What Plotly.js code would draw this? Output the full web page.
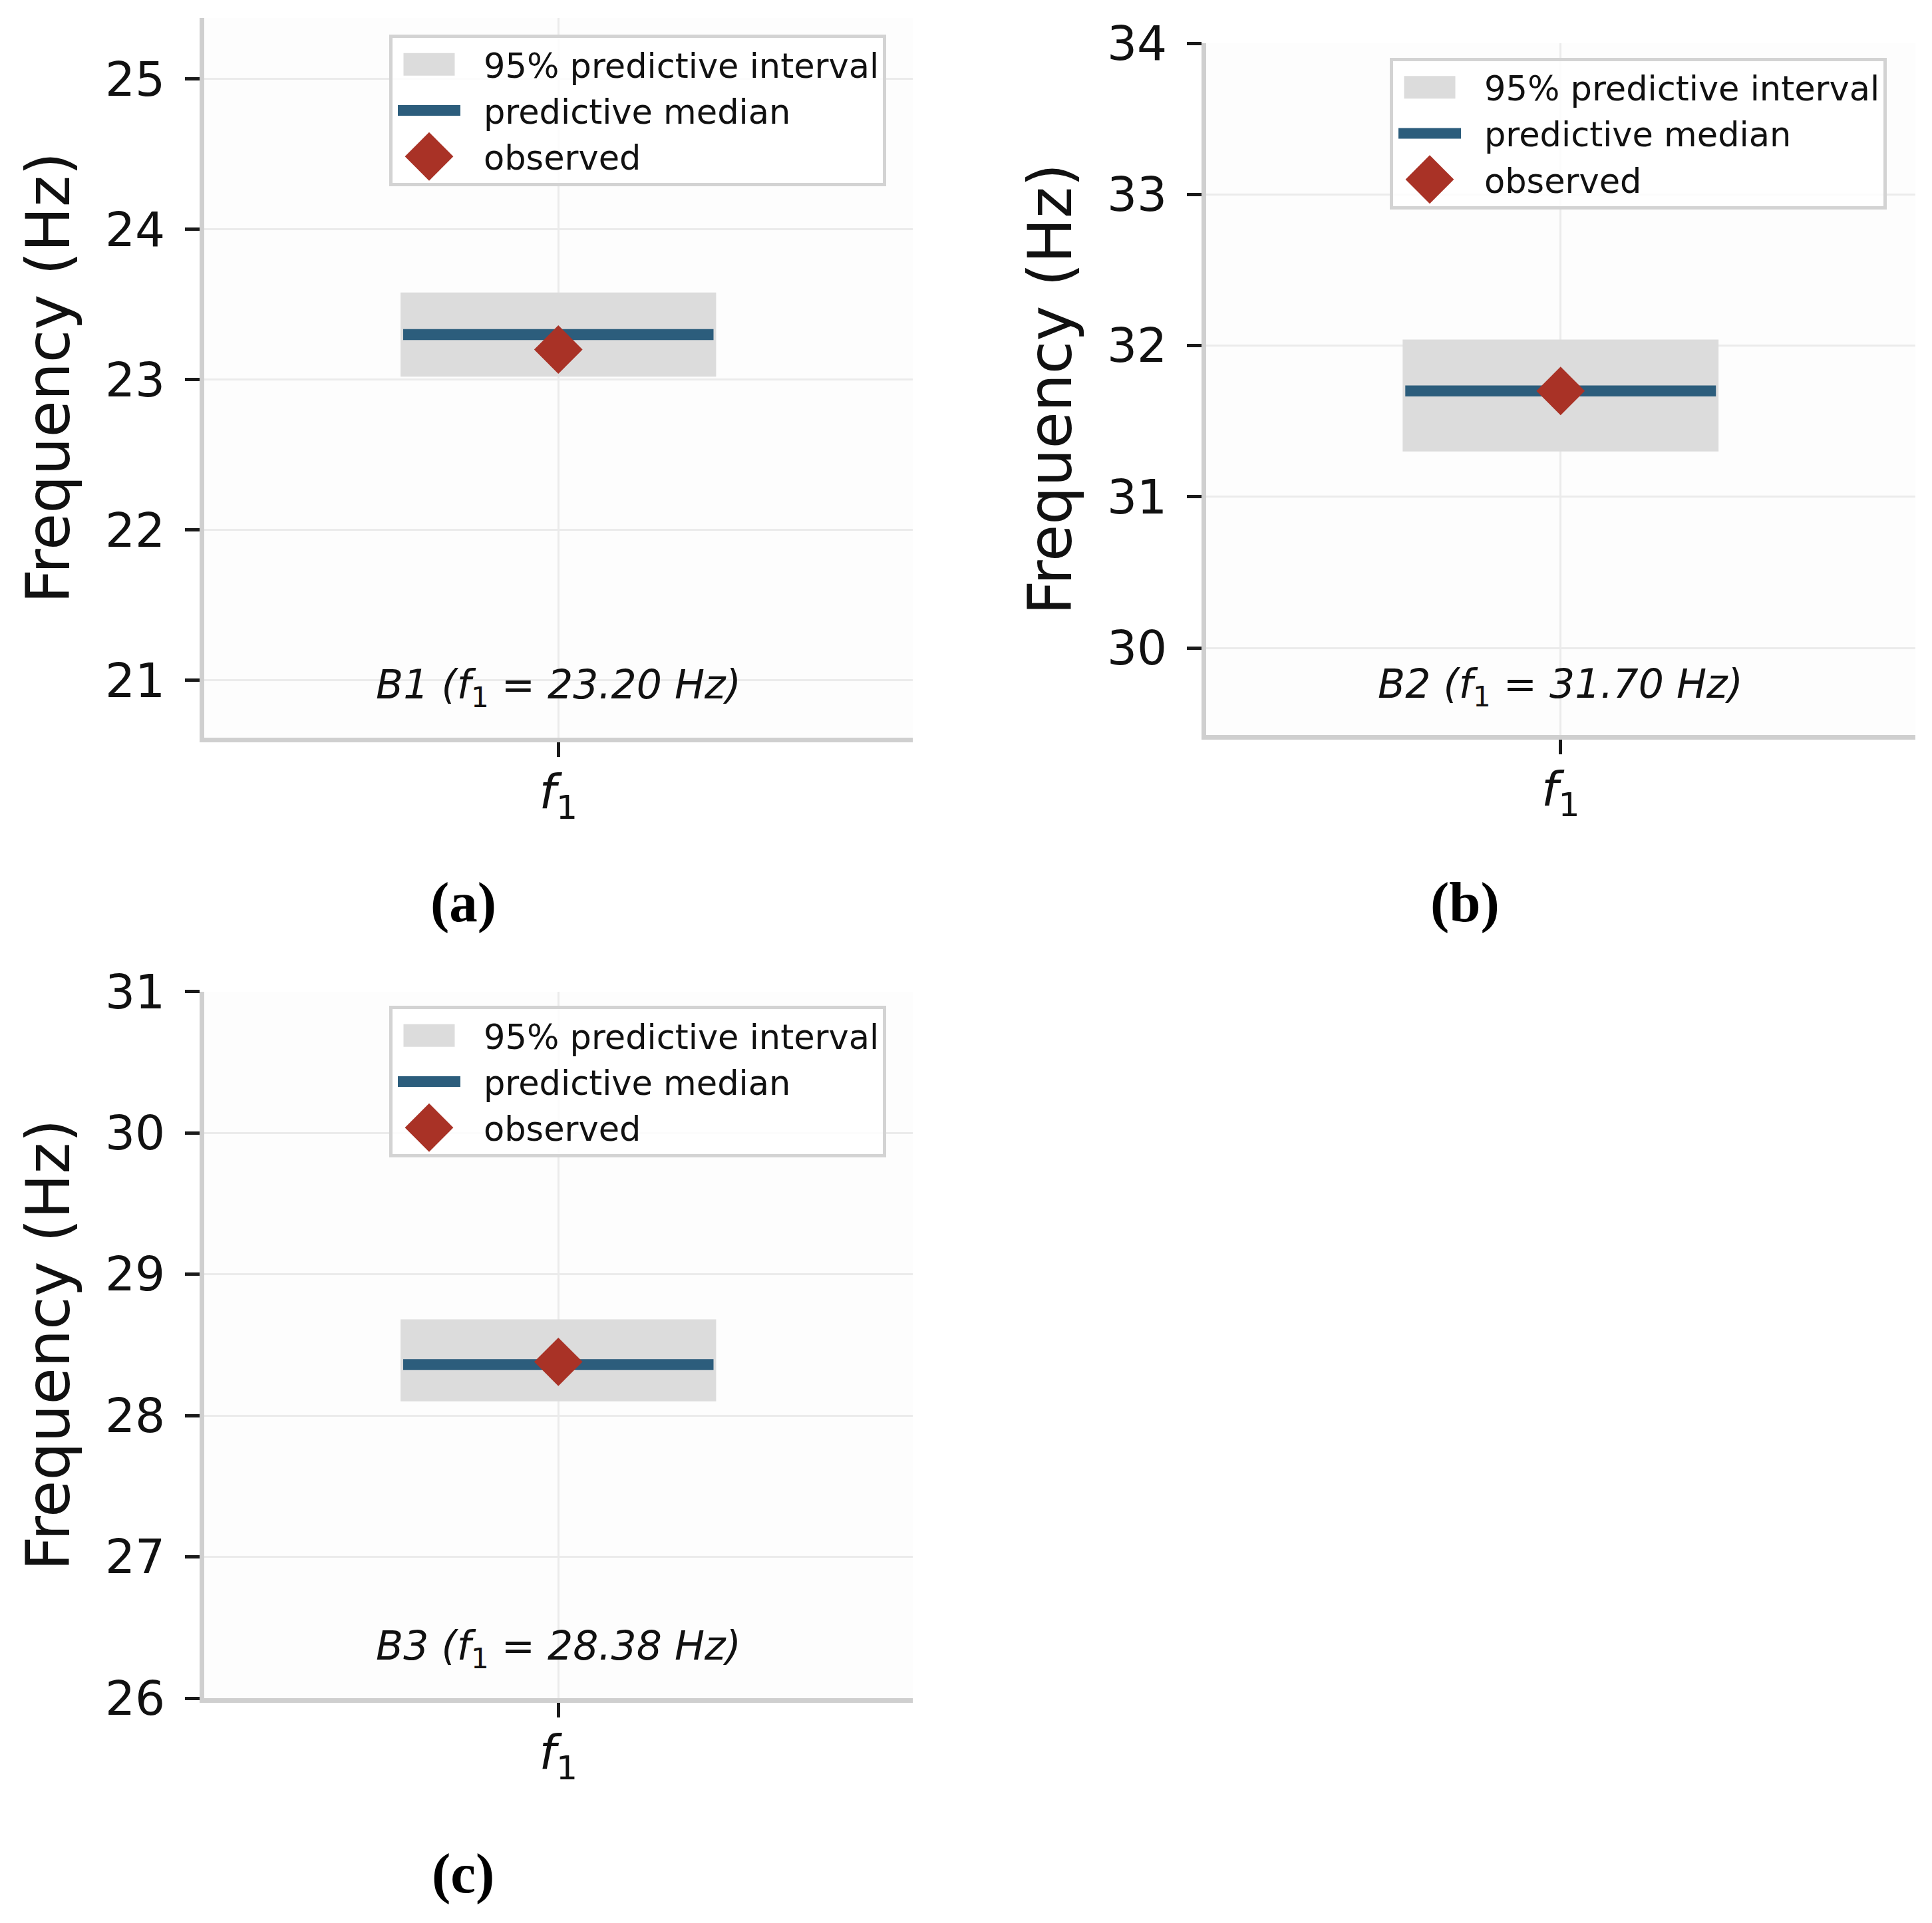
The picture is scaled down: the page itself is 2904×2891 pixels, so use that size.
<!DOCTYPE html>
<html>
<head>
<meta charset="utf-8">
<script src="https://cdn.plot.ly/plotly-3.0.1.min.js"></script>
<style>
  html, body { margin: 0; padding: 0; background: #ffffff; }
  #fig { width: 2904px; height: 2891px; }
</style>
</head>
<body>
<div id="fig"></div>
<script>
// Posterior predictive check of the first natural frequency, beams B1-B3
const beams = ['B1', 'B2', 'B3'];
const panelTags = ['(a)', '(b)', '(c)'];
const modeTick = '<i>f</i><sub>1</sub>';
const observed = [23.20, 31.70, 28.38];     // Hz
const predMedian = [23.30, 31.70, 28.36];   // Hz
const predLower = [23.02, 31.30, 28.10];    // 2.5 % quantile, Hz
const predUpper = [23.58, 32.04, 28.68];    // 97.5 % quantile, Hz
const seriesNames = ['95% predictive interval', 'predictive median', 'observed'];

// ---- styling / geometry -------------------------------------------------
const W = 2904, H = 2891;
const FONT = 'DejaVu Sans';
const COL_BAND = '#dcdcdc';
const COL_MEDIAN = '#2c5d7c';
const COL_OBS = '#a93226';
const BAND_HALF = 0.2226;     // half width of the interval box (x units)
const MEDIAN_HALF = 0.2189;   // half width of the median bar (x units)
const LEG_ITEM_W = 127;       // legend key area width (px)
const LEG_KEY_X = 55;         // centre of the legend keys (px from item origin)

// pixel boxes [left, top, right, bottom] of the three axes and their y ranges
const panels = [
  { box: [306.5, 27, 1372, 1109],     yr: [20.618, 25.406], leg: [585, 52],   tag: [696, 1356] },
  { box: [1812.5, 65, 2879, 1105],    yr: [29.424, 34.0],   leg: [2089, 86.5], tag: [2202, 1356] },
  { box: [306.5, 1490.7, 1372, 2553], yr: [26.0, 31.0],     leg: [585, 1512], tag: [696, 2816] }
];

const data = [];
const layout = {
  width: W, height: H,
  margin: { l: 0, r: 0, t: 0, b: 0, pad: 0 },
  paper_bgcolor: '#ffffff',
  plot_bgcolor: '#fdfdfd',
  font: { family: FONT, color: '#111111' },
  showlegend: true,
  barmode: 'overlay',
  annotations: []
};

panels.forEach(function (p, i) {
  const s = i === 0 ? '' : String(i + 1);
  const xa = 'x' + s, ya = 'y' + s;
  const legId = 'legend' + s;

  // interval box
  data.push({
    type: 'bar', xaxis: xa, yaxis: ya, legend: legId,
    name: seriesNames[0],
    x: [0], base: [predLower[i]], y: [predUpper[i] - predLower[i]],
    width: [2 * BAND_HALF],
    marker: { color: COL_BAND, line: { width: 0 } },
    hoverinfo: 'skip'
  });
  // predictive median
  data.push({
    type: 'scatter', mode: 'lines', xaxis: xa, yaxis: ya, legend: legId,
    name: seriesNames[1],
    x: [-MEDIAN_HALF, MEDIAN_HALF], y: [predMedian[i], predMedian[i]],
    line: { color: COL_MEDIAN, width: 16.5 },
    hoverinfo: 'skip'
  });
  // observed value
  data.push({
    type: 'scatter', mode: 'markers', xaxis: xa, yaxis: ya, legend: legId,
    name: seriesNames[2],
    x: [0], y: [observed[i]],
    marker: { symbol: 'diamond', size: 56, color: COL_OBS, line: { width: 0 } },
    hoverinfo: 'skip'
  });

  const [x0, y0, x1, y1] = p.box;
  layout['xaxis' + s] = {
    anchor: ya,
    domain: [x0 / W, x1 / W],
    range: [-0.5, 0.5],
    tickmode: 'array', tickvals: [0], ticktext: [modeTick],
    showgrid: true, gridcolor: '#ebebeb', gridwidth: 3,
    zeroline: false,
    showline: true, linecolor: '#cfcfcf', linewidth: 7,
    ticks: 'outside', ticklen: 22, tickwidth: 5, tickcolor: '#1a1a1a',
    ticklabelstandoff: -9,
    tickfont: { family: FONT, size: 72, color: '#111111' },
    fixedrange: true
  };
  layout['yaxis' + s] = {
    anchor: xa,
    domain: [1 - y1 / H, 1 - y0 / H],
    range: p.yr,
    tickmode: 'linear', tick0: 0, dtick: 1,
    showgrid: true, gridcolor: '#ebebeb', gridwidth: 3,
    zeroline: false,
    showline: true, linecolor: '#cfcfcf', linewidth: 7,
    ticks: 'outside', ticklen: 22, tickwidth: 5, tickcolor: '#1a1a1a',
    ticklabelstandoff: 15,
    tickfont: { family: FONT, size: 71, color: '#111111' },
    title: { text: 'Frequency (Hz)', font: { family: FONT, size: 90, color: '#111111' }, standoff: 26 },
    fixedrange: true
  };
  layout[legId] = {
    x: p.leg[0] / W, y: 1 - p.leg[1] / H,
    xanchor: 'left', yanchor: 'top', xref: 'paper', yref: 'paper',
    bgcolor: 'rgba(255,255,255,0.85)',
    bordercolor: '#d3d3d3', borderwidth: 5,
    font: { family: FONT, size: 51, color: '#111111' },
    itemwidth: LEG_ITEM_W,
    traceorder: 'normal'
  };

  // beam caption inside the axes
  layout.annotations.push({
    xref: xa + ' domain', yref: ya + ' domain', x: 0.5, y: 0.070,
    xanchor: 'center', yanchor: 'middle', showarrow: false,
    text: '<i>' + beams[i] + ' (f</i><sub>1</sub><i> = ' + observed[i].toFixed(2) + ' Hz)</i>',
    font: { family: FONT, size: 60, color: '#111111' }
  });
  // panel tag below the axes
  layout.annotations.push({
    xref: 'paper', yref: 'paper', x: p.tag[0] / W, y: 1 - p.tag[1] / H,
    xanchor: 'center', yanchor: 'middle', showarrow: false,
    text: '<b>' + panelTags[i] + '</b>',
    font: { family: 'Liberation Serif', size: 85, color: '#000000' }
  });
});

// Legend keys: full-size swatches, like the marks drawn in the axes
function styleLegendKeys(gd) {
  const keyPos = 'translate(' + LEG_KEY_X + ',0)';
  gd.querySelectorAll('g.infolayer g.traces').forEach(function (item) {
    const d = item.__data__;
    const trace = d && d[0] && d[0].trace;
    if (!trace) return;
    if (trace.type === 'bar') {
      item.querySelectorAll('g.legendpoints path').forEach(function (el) {
        el.setAttribute('d', 'M38.5,17H-38.5V-17H38.5Z');
        el.setAttribute('transform', keyPos);
      });
    } else if (trace.mode === 'markers') {
      item.querySelectorAll('path.scatterpts').forEach(function (el) {
        el.setAttribute('transform', keyPos + ' scale(3.5)');
      });
    } else {
      item.querySelectorAll('path.js-line').forEach(function (el) {
        el.setAttribute('d', 'M' + (LEG_KEY_X - 47) + ',0h94');
        el.style.strokeWidth = '16px';
      });
    }
  });
}

const gd = document.getElementById('fig');
Plotly.newPlot(gd, data, layout, { displayModeBar: false, staticPlot: true })
  .then(function () { styleLegendKeys(gd); });
</script>
</body>
</html>
